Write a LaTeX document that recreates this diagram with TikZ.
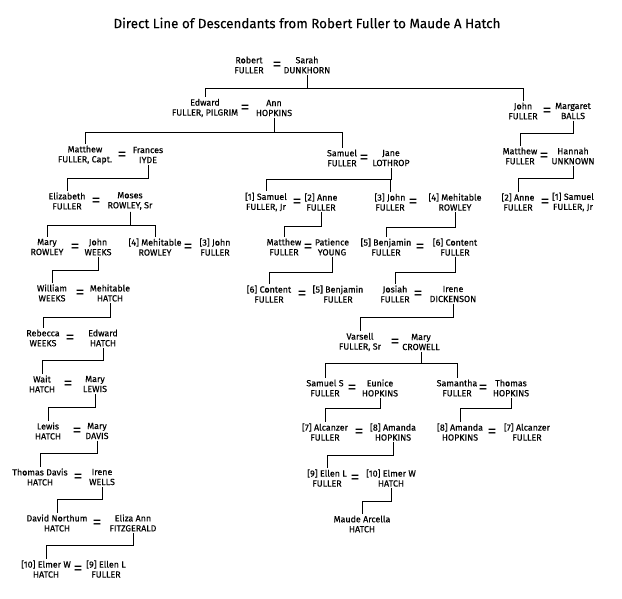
\documentclass[tikz,border=0pt]{standalone}
\usepackage{fontspec}
\setmainfont{Fira Sans}
\newfontfamily\namefam{Fira Sans}[FakeBold=0.3]
\newfontfamily\titlefam{Fira Sans}[FakeBold=0.15]
\newcommand\namefont{\namefam\fontsize{8.9}{10}\selectfont}
\tikzset{
  person/.style={align=center, font=\namefont, inner sep=1.5pt},
  eqsign/.style={font=\fontsize{18}{18}\selectfont, inner sep=0pt},
  kinline/.style={line width=0.9pt, black},
  titletext/.style={font=\titlefam\fontsize{13.4}{15}\selectfont, inner sep=0pt}
}
\newcommand\couple[7]{%
  \node[person] (a#1) at (#2,#5) {#6};
  \node[person] (b#1) at (#3,#5) {#7};
  \node[eqsign] (e#1) at (#4,#5+1.5) {=};
}
\newcommand\kin[3]{%
  \coordinate (k#1-#2) at (0,#3);
  \draw[kinline] (b#1.south) |- (k#1-#2 -| a#2.north) -- (a#2.north);
}
\begin{document}
\begin{tikzpicture}[x=1pt,y=-1pt]
\fill[white] (0,0) rectangle (622,598);
\useasboundingbox (0,0) rectangle (622,598);
\node[titletext] (title) at (307,23) {Direct Line of Descendants from Robert Fuller to Maude A Hatch};

% couples: id, left x, right x, eq x, mid y, left text, right text
\couple{1}{249}{307}{277}{65}{Robert\\FULLER}{Sarah\\DUNKHORN}
\couple{2}{205}{274}{245}{108}{Edward\\FULLER, PILGRIM}{Ann\\HOPKINS}
\couple{28}{523}{573}{547}{111}{John\\FULLER}{Margaret\\BALLS}
\couple{3}{85}{148}{122}{155}{Matthew\\FULLER, Capt.}{Frances\\IYDE}
\couple{7}{342}{391}{364}{158}{Samuel\\FULLER}{Jane\\LOTHROP}
\couple{29}{520}{573}{544}{156}{Matthew\\FULLER}{Hannah\\UNKNOWN}
\couple{4}{67}{130}{96}{201}{Elizabeth\\FULLER}{Moses\\ROWLEY, Sr}
\couple{8}{266}{321}{297}{202}{[1] Samuel\\FULLER, Jr}{[2] Anne\\FULLER}
\couple{9}{390}{455}{413}{202}{[3] John\\FULLER}{[4] Mehitable\\ROWLEY}
\couple{30}{518}{573}{545}{202}{[2] Anne\\FULLER}{[1] Samuel\\FULLER, Jr}
\couple{5}{47}{98}{75}{247}{Mary\\ROWLEY}{John\\WEEKS}
\couple{6}{155}{215}{188}{247}{[4] Mehitable\\ROWLEY}{[3] John\\FULLER}
\couple{10}{284}{332}{308}{247}{Matthew\\FULLER}{Patience\\YOUNG}
\couple{11}{386}{455}{420}{247}{[5] Benjamin\\FULLER}{[6] Content\\FULLER}
\couple{21}{52}{110}{80}{293}{William\\WEEKS}{Mehitable\\HATCH}
\couple{12}{269}{338}{302}{294}{[6] Content\\FULLER}{[5] Benjamin\\FULLER}
\couple{13}{395}{453}{418}{294}{Josiah\\FULLER}{Irene\\DICKENSON}
\couple{22}{43}{103}{70}{338}{Rebecca\\WEEKS}{Edward\\HATCH}
\couple{14}{360}{421}{395}{342}{Varsell\\FULLER, Sr}{Mary\\CROWELL}
\couple{23}{42}{95}{68}{384}{Wait\\HATCH}{Mary\\LEWIS}
\couple{15}{325}{380}{352}{388}{Samuel S\\FULLER}{Eunice\\HOPKINS}
\couple{16}{457}{511}{483}{388}{Samantha\\FULLER}{Thomas\\HOPKINS}
\couple{24}{48}{97}{77}{431}{Lewis\\HATCH}{Mary\\DAVIS}
\couple{17}{325}{393}{359}{432}{[7] Alcanzer\\FULLER}{[8] Amanda\\HOPKINS}
\couple{18}{460}{527}{492}{432}{[8] Amanda\\HOPKINS}{[7] Alcanzer\\FULLER}
\couple{25}{40}{102}{78}{477}{Thomas Davis\\HATCH}{Irene\\WELLS}
\couple{19}{327}{391}{355}{478}{[9] Ellen L\\FULLER}{[10] Elmer W\\HATCH}
\couple{26}{57}{133}{97}{523}{David Northum\\HATCH}{Eliza Ann\\FITZGERALD}
\couple{27}{46}{106}{78}{569}{[10] Elmer W\\HATCH}{[9] Ellen L\\FULLER}
\node[person] (a20) at (362,524) {Maude Arcella\\HATCH};

% descent lines: parent couple, child couple, bar y
\kin{1}{2}{88}
\kin{1}{28}{88}
\kin{2}{3}{132}
\kin{2}{7}{132}
\kin{3}{4}{178}
\kin{4}{5}{225}
\kin{4}{6}{225}
\kin{5}{21}{270}
\kin{21}{22}{317}
\kin{22}{23}{360}
\kin{23}{24}{407}
\kin{24}{25}{453}
\kin{25}{26}{499}
\kin{26}{27}{545}
\kin{7}{8}{179}
\kin{7}{9}{179}
\kin{8}{10}{226}
\kin{9}{11}{227}
\kin{10}{12}{272}
\kin{11}{13}{272}
\kin{13}{14}{317}
\kin{14}{15}{363}
\kin{14}{16}{363}
\kin{15}{17}{408}
\kin{16}{18}{408}
\kin{17}{19}{455}
\kin{19}{20}{501}
\kin{28}{29}{133}
\kin{29}{30}{178}
\end{tikzpicture}
\end{document}
